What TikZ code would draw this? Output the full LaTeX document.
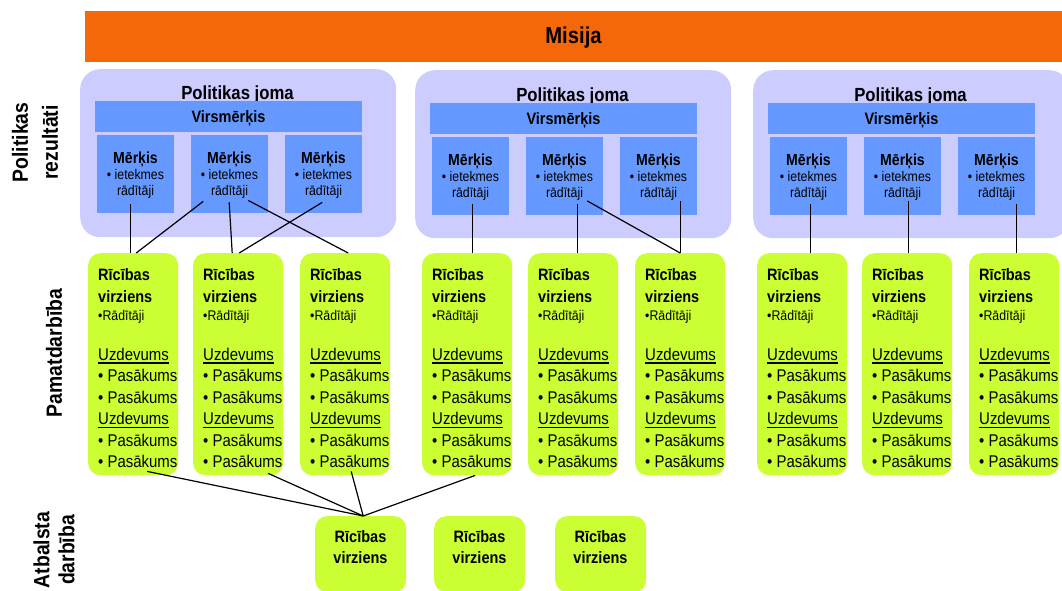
\documentclass[tikz,border=0pt]{standalone}
\usepackage{fontspec}
\setmainfont{Liberation Sans}[FakeStretch=0.88]
\usetikzlibrary{calc}
\definecolor{misija}{HTML}{F5680A}
\definecolor{joma}{HTML}{CCCCFF}
\definecolor{merk}{HTML}{6699FF}
\definecolor{rv}{HTML}{CCFF33}
\newcommand\fs[2]{\fontsize{#1}{#2}\selectfont}
\newcommand\ulx[1]{\setbox0=\hbox{#1}\rlap{\rule[-3.6pt]{\wd0}{1.4pt}}\box0}
\newcommand\mtext{\vtop{\lineskiplimit=-100pt\lineskip=0pt
\hbox to 77pt{\hss\bfseries\fs{16}{16}Mērķis\hss}
\baselineskip=16pt
\hbox to 77pt{\hss\fs{14}{16}• ietekmes\hss}
\hbox to 77pt{\hss\fs{14}{16}rādītāji\hss}}}
\newcommand\rvtext{\vtop{\lineskiplimit=-100pt\lineskip=0pt
\baselineskip=22pt
\hbox{\bfseries\fs{16.5}{22}Rīcības}
\hbox{\bfseries\fs{16.5}{22}virziens}
\baselineskip=18pt
\hbox{\fs{14}{18}•Rādītāji}
\baselineskip=40pt
\hbox{\fs{17}{21}\ulx{Uzdevums}}
\baselineskip=21.5pt
\hbox{\fs{17}{21}• Pasākums}
\hbox{\fs{17}{21}• Pasākums}
\hbox{\fs{17}{21}\ulx{Uzdevums}}
\hbox{\fs{17}{21}• Pasākums}
\hbox{\fs{17}{21}• Pasākums}}}
\newcommand\stext{\vtop{\lineskiplimit=-100pt\lineskip=0pt
\baselineskip=21pt
\hbox to 91pt{\hss\bfseries\fs{16.5}{21}Rīcības\hss}
\hbox to 91pt{\hss\bfseries\fs{16.5}{21}virziens\hss}}}
\begin{document}
\begin{tikzpicture}[x=1pt,y=-1pt,
  jomabox/.style={fill=joma, rounded corners=20pt, inner sep=0, draw=none, anchor=north west},
  mbox/.style={fill=merk, inner sep=0, draw=none, anchor=north west},
  rvbox/.style={fill=rv, rounded corners=12pt, inner sep=0, draw=none, anchor=north west},
  conn/.style={draw=black, line width=1.2pt},
  sidelabel/.style={font=\bfseries\fs{22}{30}, align=center, inner sep=0, rotate=90},
  txt/.style={inner sep=0},
]
\useasboundingbox (0,0) rectangle (1062,590);
\fill[white] (0,0) rectangle (1062,590);
% Misija
\node[fill=misija, minimum width=990, minimum height=51, anchor=north west, inner sep=0] (mis) at (85,11) {};
\node[txt, font=\bfseries\fs{23}{23}, anchor=base] (mist) at (573.5,43) {Misija};
% side labels
\node[sidelabel] (lab1) at (35,142.5) {Politikas\\rezultāti};
\node[sidelabel] (lab2) at (54,353) {Pamatdarbība};
\node[sidelabel, font=\bfseries\fs{22}{25}] (lab3) at (54,550) {Atbalsta\\darbība};
% policy groups
\foreach \g/\x/\dy in {1/80/0,2/415/2,3/753/2} {
  \node[jomabox, minimum width=316, minimum height=168] (pj\g) at (\x,{69+\dy/2}) {};
  \node[txt, font=\bfseries\fs{19}{19}, anchor=base] (pjt\g) at ({\x+157.5},{99+\dy}) {Politikas joma};
  \node[mbox, minimum width=267, minimum height=31] (vm\g) at ({\x+15},{101+\dy}) {};
  \node[txt, font=\bfseries\fs{16.5}{16.5}, anchor=base] (vmt\g) at ({\x+148.5},{122+\dy}) {Virsmērķis};
  \foreach \i/\dx in {1/17,2/111,3/205} {
    \node[mbox, minimum width=77, minimum height=78] (m\g\i) at ({\x+\dx},{134.5+\dy}) {};
    \node[txt, anchor=base] (mt\g\i) at ({\x+\dx+38.5},{163+\dy}) {\mtext};
  }
}
% action lines (green)
\foreach \k/\x in {1/88,2/193,3/300,4/422,5/528,6/635,7/757,8/862,9/969} {
  \node[rvbox, minimum width=90, minimum height=222] (g\k) at (\x,253) {};
  \node[txt, anchor=base west] (gt\k) at ({\x+10},280) {\rvtext};
}
% support action lines
\foreach \k/\x in {1/315,2/434,3/555} {
  \node[rvbox, minimum width=91, minimum height=76] (s\k) at (\x,516) {};
  \node[txt, anchor=base] (st\k) at ({\x+45.5},542) {\stext};
}
% connectors: goals to action lines
\draw[conn] ($(m11.south)+(-5.5,-8.5)$) -- ($(g1.north)+(-3,0)$);
\draw[conn] ($(m12.south)+(-26.5,-11.5)$) -- ($(g1.north)+(3,0)$);
\draw[conn] ($(m12.south)+(-0.5,-10.5)$) -- ($(g2.north)+(-6,0)$);
\draw[conn] ($(m12.south)+(18.5,-12.5)$) -- ($(g3.north)+(3,0)$);
\draw[conn] ($(m13.south)+(-1.5,-10.5)$) -- ($(g2.north)+(1,0)$);
\draw[conn] ($(m21.south)+(1.5,-11)$) -- ($(g4.north)+(5,0)$);
\draw[conn] ($(m22.south)+(12.5,-11)$) -- ($(g5.north)+(4,0)$);
\draw[conn] ($(m22.south)+(22.5,-14)$) -- (g6.north);
\draw[conn] ($(m23.south)+(21.5,-14)$) -- (g6.north);
\draw[conn] ($(m31.south)+(1.5,-11)$) -- ($(g7.north)+(8,0)$);
\draw[conn] ($(m32.south)+(5.5,-14)$) -- ($(g8.north)+(1,0)$);
\draw[conn] ($(m33.south)+(19.5,-11)$) -- ($(g9.north)+(2,0)$);
% connectors: action lines to support
\coordinate (sj) at ($(s1.north)+(2.5,0)$);
\draw[conn] ($(g1.south)+(14,-4)$) -- (sj);
\draw[conn] ($(g2.south)+(30,-2)$) -- (sj);
\draw[conn] ($(g3.south)+(6,-4)$) -- (sj);
\draw[conn] ($(g4.south)+(8,0)$) -- (sj);
\end{tikzpicture}
\end{document}
